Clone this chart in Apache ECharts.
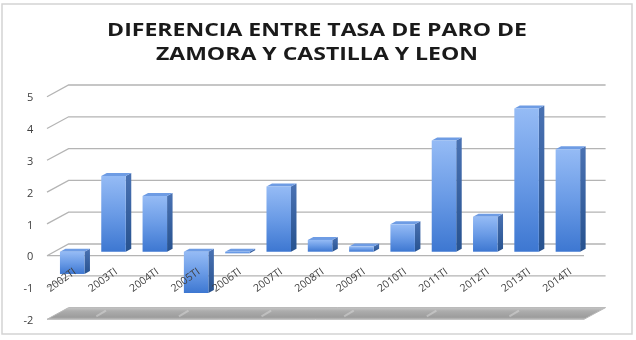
<!DOCTYPE html>
<html>
<head>
<meta charset="utf-8">
<script src="https://cdn.jsdelivr.net/npm/echarts@6/dist/echarts.min.js"></script>
<style>
  html, body { margin: 0; padding: 0; background: #fff; }
  #chart { width: 636px; height: 340px; }
</style>
</head>
<body>
<div id="chart"></div>
<script>
// datos
var categories = ['2002TI', '2003TI', '2004TI', '2005TI', '2006TI', '2007TI', '2008TI',
                  '2009TI', '2010TI', '2011TI', '2012TI', '2013TI', '2014TI'];
var diferencia = [-0.7, 2.38, 1.75, -1.3, -0.05, 2.05, 0.37, 0.16, 0.86, 3.5, 1.1, 4.5, 3.22];
var yTicks = [-2, -1, 0, 1, 2, 3, 4, 5];

// profundidad 3D (px): el grid es el plano de las barras
var FRONT = [-7.3, 4];
var BACK = [14.3, -7.7];
var BAR_W = 24.5;
var SIDE = [5.5, -3];
var GRID_COL = '#b4b4b4';

var myChart = echarts.init(document.getElementById('chart'));

function edges(api, v) {
    var first = api.coord([0, v]);
    var last = api.coord([categories.length - 1, v]);
    var bw = api.size([1, 0])[0];
    return { l: first[0] - bw / 2, r: last[0] + bw / 2, y: first[1] };
}

function pt(x, y, off) { return [x + off[0], y + off[1]]; }

var option = {
    animation: false,
    graphic: [{
        type: 'rect',
        shape: { x: 2, y: 4, width: 630, height: 330 },
        style: { fill: 'none', stroke: '#d4d4d4', lineWidth: 1.5 },
        z: -10
    }, {
        // titulo (estirado en horizontal como el original)
        type: 'text',
        x: 317,
        y: 18,
        scaleX: 1.245,
        originX: 0,
        style: {
            text: 'DIFERENCIA ENTRE TASA DE PARO DE\nZAMORA Y CASTILLA Y LEON',
            fontFamily: 'Open Sans',
            fontWeight: 'bold',
            fontSize: 18.5,
            lineHeight: 24.5,
            fill: '#1a1a1a',
            align: 'center',
            verticalAlign: 'top'
        }
    }],
    grid: { left: 54.3, right: 44.7, top: 92.7, bottom: 24.7, containLabel: false, outerBoundsMode: 'none' },
    xAxis: {
        type: 'category',
        data: categories,
        position: 'bottom',
        offset: -63.6,
        z: 20,
        axisLine: { show: false, onZero: false },
        axisTick: { show: false },
        axisLabel: {
            rotate: 36,
            margin: 19,
            interval: 0,
            fontSize: 10.5,
            fontFamily: 'Open Sans',
            color: '#404040'
        }
    },
    yAxis: {
        type: 'value',
        min: -2,
        max: 5,
        interval: 1,
        axisLine: { show: false },
        axisTick: { show: false },
        splitLine: { show: false },
        axisLabel: {
            margin: 21,
            fontSize: 11,
            fontFamily: 'Open Sans',
            color: '#404040',
            verticalAlign: 'top'
        }
    },
    series: [{
        // suelo gris en -2
        type: 'custom',
        z: 1,
        data: [[-2]],
        renderItem: function (params, api) {
            var e = edges(api, api.value(0));
            var fl = pt(e.l, e.y, FRONT), fr = pt(e.r, e.y, FRONT);
            var bl = pt(e.l, e.y, BACK), br = pt(e.r, e.y, BACK);
            var children = [{
                type: 'polygon',
                shape: { points: [fl, fr, br, bl] },
                style: {
                    fill: {
                        type: 'linear', x: 0, y: 0, x2: 0, y2: 1,
                        colorStops: [
                            { offset: 0, color: '#cacaca' },
                            { offset: 0.3, color: '#adadad' },
                            { offset: 0.8, color: '#9c9c9c' },
                            { offset: 1, color: '#c4c4c4' }
                        ]
                    },
                    stroke: '#b8b8b8',
                    lineWidth: 1
                }
            }];
            // reflejos claros del suelo
            for (var i = 1; i < categories.length; i += 2) {
                var x = e.l + (e.r - e.l) * i / categories.length;
                children.push({
                    type: 'line',
                    shape: { x1: x + FRONT[0] + 8, y1: e.y + FRONT[1] - 3, x2: x + BACK[0] - 4, y2: e.y + BACK[1] + 3 },
                    style: { stroke: 'rgba(225,225,225,0.45)', lineWidth: 2 }
                });
            }
            return { type: 'group', children: children };
        }
    }, {
        // lineas de division: pared del fondo y pared lateral
        type: 'custom',
        z: 2,
        data: yTicks.filter(function (v) { return v > -2; }).map(function (v) { return [v]; }),
        renderItem: function (params, api) {
            var v = api.value(0);
            var e = edges(api, v);
            var fl = pt(e.l, e.y, FRONT), fr = pt(e.r, e.y, FRONT);
            var bl = pt(e.l, e.y, BACK), br = pt(e.r, e.y, BACK);
            var st = { fill: null, stroke: GRID_COL, lineWidth: 1.3 };
            var children = [
                { type: 'polyline', shape: { points: [fl, bl, br] }, style: st }
            ];
            if (v === 0) {
                children.push({ type: 'line', shape: { x1: fl[0], y1: fl[1], x2: fr[0], y2: fr[1] }, style: st });
            }
            return { type: 'group', children: children };
        }
    }, {
        // columnas 3D
        type: 'custom',
        z: 5,
        data: diferencia.map(function (v, i) { return [i, v]; }),
        renderItem: function (params, api) {
            var i = api.value(0), v = api.value(1);
            var p0 = api.coord([i, 0]);
            var pv = api.coord([i, v]);
            var yTop = Math.min(p0[1], pv[1]);
            var yBot = Math.max(p0[1], pv[1]);
            var h = Math.max(yBot - yTop, 1.5);
            var x0 = p0[0] - (BAR_W + SIDE[0]) / 2;
            var x1 = x0 + BAR_W;
            return {
                type: 'group',
                children: [{
                    type: 'polygon',
                    shape: { points: [[x1, yTop], [x1 + SIDE[0], yTop + SIDE[1]], [x1 + SIDE[0], yTop + h + SIDE[1]], [x1, yTop + h]] },
                    style: {
                        fill: {
                            type: 'linear', x: 0, y: 0, x2: 0, y2: 1,
                            colorStops: [{ offset: 0, color: '#4a72b3' }, { offset: 1, color: '#27528f' }]
                        }
                    }
                }, {
                    type: 'polygon',
                    shape: { points: [[x0, yTop], [x0 + SIDE[0], yTop + SIDE[1]], [x1 + SIDE[0], yTop + SIDE[1]], [x1, yTop]] },
                    style: { fill: '#6e9ce4' }
                }, {
                    type: 'rect',
                    shape: { x: x0, y: yTop, width: BAR_W, height: h },
                    style: {
                        fill: {
                            type: 'linear', x: 0, y: 0, x2: 0, y2: 1,
                            colorStops: [
                                { offset: 0, color: '#95bbf5' },
                                { offset: 0.5, color: '#6a9be6' },
                                { offset: 1, color: '#3d77d1' }
                            ]
                        }
                    }
                }]
            };
        }
    }]
};

myChart.setOption(option);
</script>
</body>
</html>
